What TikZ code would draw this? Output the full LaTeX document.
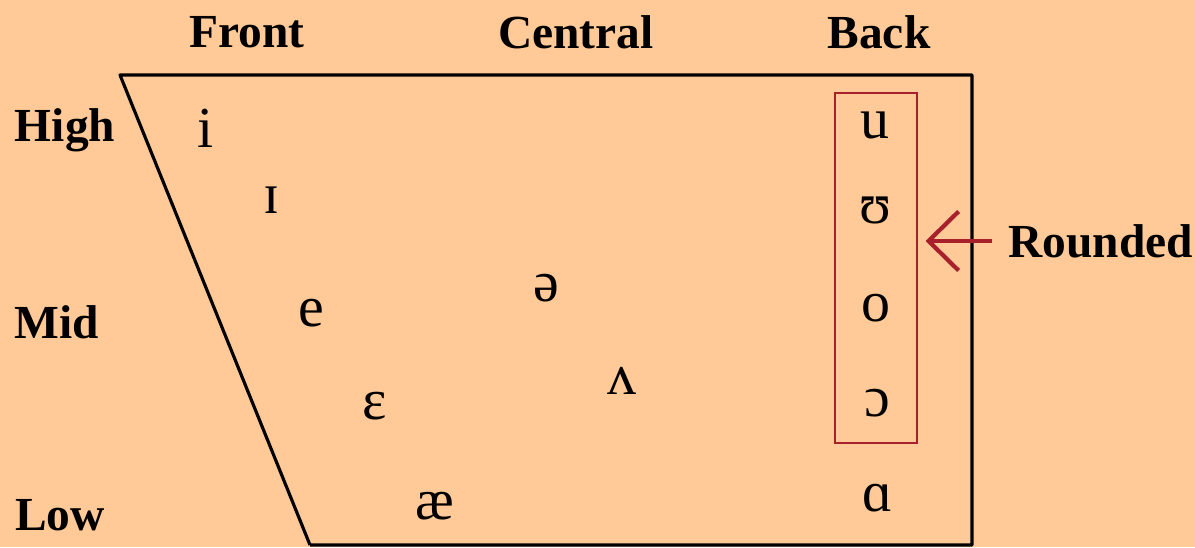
\documentclass[tikz,border=0pt]{standalone}
\usepackage{fontspec}
\setmainfont{Liberation Serif}
\usepackage{xcolor}
\usetikzlibrary{arrows.meta}
\definecolor{peach}{HTML}{FFCA98}
\definecolor{roundred}{HTML}{A8202C}

\begin{document}
\begin{tikzpicture}[x=0.02cm,y=-0.02cm,
  lab/.style={font=\fontsize{27}{27}\selectfont\bfseries},
  vow/.style={font=\fontsize{33}{33}\selectfont},
  chart/.style={line width=1.8pt,line join=round}]
\fill [peach] (0,0) rectangle (1195,547);
\useasboundingbox (0,0) rectangle (1195,547);
% column and row labels
\node [lab] (front) at (247,32) {Front};
\node [lab] (central) at (576,32) {Central};
\node [lab] (back) at (879,32) {Back};
\node [lab] (high) at (65,130) {High};
\node [lab] (mid) at (57,322) {Mid};
\node [lab] (low) at (60,515) {Low};
% chart outline
\coordinate (tl) at (120,75);
\coordinate (tr) at (972,75);
\coordinate (br) at (972,545);
\coordinate (bl) at (310,545);
\draw [chart] (bl) -- (tl) -- (tr) -- (br) -- (bl);
% vowels
\node [vow] (i) at (206,128) {i};
\node [vow] (I) at (272,200) {ɪ};
\node [vow] (e) at (311,313) {e};
\node [vow] (eps) at (375,406) {ɛ};
\node [vow] (ae) at (435,506) {æ};
\node [vow] (schwa) at (546,288) {ə};
\node [vow] (wedge) at (622,381) {ʌ};
\node [vow] (u) at (875,125) {u};
\node [vow] (U) at (875,210) {ʊ};
\node [vow] (o) at (876,308) {o};
\node [vow] (oo) at (877,403) {ɔ};
\node [vow] (a) at (878,498) {ɑ};
% rounded vowels
\node [draw=roundred,line width=0.6pt,minimum width=82*0.02cm,minimum height=350*0.02cm,inner sep=0pt] (rbox) at (876,268) {};
\node [lab,anchor=west,inner sep=0pt] (rounded) at (1008,241) {Rounded};
\draw [roundred,line width=2.2pt,-{Straight Barb[length=0.6cm,width=1.18cm,line width=2.4pt]},shorten <=0.32cm,shorten >=0.16cm] (rounded.west) -- (rbox.east |- rounded.west);
\end{tikzpicture}
\end{document}
